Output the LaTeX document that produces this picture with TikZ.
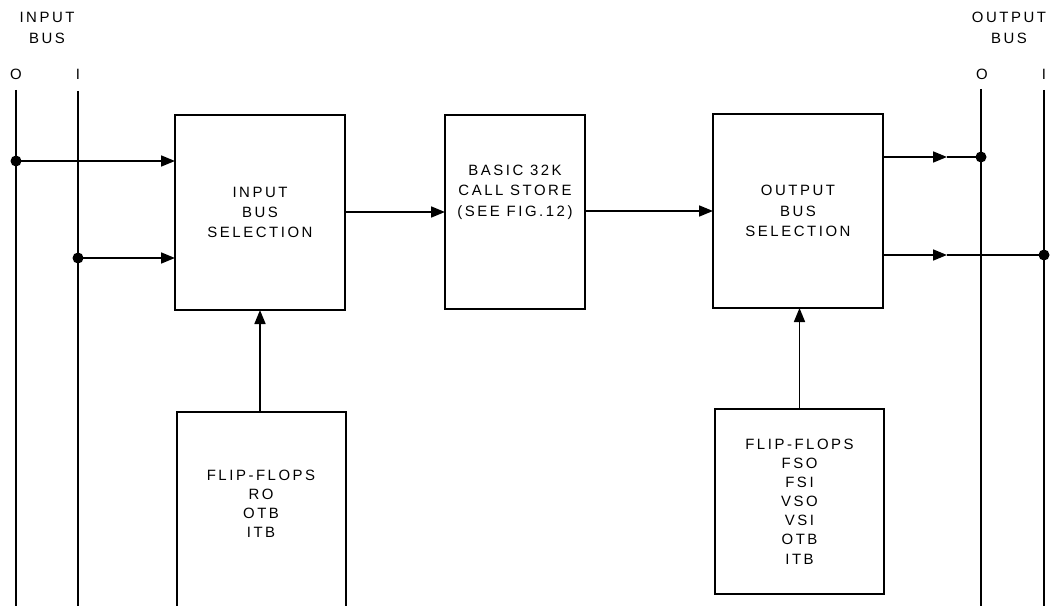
\documentclass[tikz,border=0pt]{standalone}
\usepackage{fontspec}
\setmainfont{Liberation Sans}[LetterSpace=17]
\usetikzlibrary{arrows.meta}
\begin{document}
\begin{tikzpicture}[x=1bp,y=-1bp,line width=1.7bp,
  blk/.style={draw,inner sep=0pt,outer sep=0pt},
  ghost/.style={inner sep=0pt,outer sep=0pt},
  txt/.style={align=center,font=\fontsize{15}{20.5}\selectfont,inner sep=0pt},
  arr/.style={-{Triangle[length=14bp,width=11bp]}},
  dot/.style={circle,fill,inner sep=0pt,minimum size=11bp}]
\useasboundingbox (0,0) rectangle (1053,606);
% boxes
\node[blk,minimum width=170bp,minimum height=195bp] (inbox) at (260,212.5) {};
\node[blk,minimum width=140bp,minimum height=194bp] (store) at (515,212) {};
\node[blk,minimum width=170bp,minimum height=194bp] (outbox) at (798,211) {};
\node[ghost,minimum width=169bp,minimum height=198bp] (ffL) at (261.5,511) {};
\node[blk,minimum width=169bp,minimum height=185bp] (ffR) at (799.5,501.5) {};
\draw (ffL.south west) -- (ffL.north west) -- (ffL.north east) -- (ffL.south east);
% texts
\node[txt] (tin) at (inbox.center) {INPUT\\BUS\\SELECTION};
\node[txt] (tstore) at (515,192) {BASIC 32K\\CALL STORE\\(SEE FIG.12)};
\node[txt] (tout) at (outbox.center) {OUTPUT\\BUS\\SELECTION};
\node[txt,font=\fontsize{15}{19.2}\selectfont] (tffL) at (261,504) {FLIP-FLOPS\\RO\\OTB\\ITB};
\node[txt,font=\fontsize{15}{19.2}\selectfont] (tffR) at (ffR.center) {FLIP-FLOPS\\FSO\\FSI\\VSO\\VSI\\OTB\\ITB};
\node[txt] (lin) at (47,28) {INPUT\\BUS};
\node[txt] (lout) at (1009,28) {OUTPUT\\BUS};
\node[txt] (lin0) at (16,74) {O};
\node[txt] (lin1) at (78,74) {I};
\node[txt] (lout0) at (982,74) {O};
\node[txt] (lout1) at (1044,74) {I};
% bus lines
\coordinate (b0t) at (16,90);   \coordinate (b0b) at (16,606);
\coordinate (b1t) at (78,91);   \coordinate (b1b) at (78,606);
\coordinate (c0t) at (981,89);  \coordinate (c0b) at (981,606);
\coordinate (c1t) at (1044,90); \coordinate (c1b) at (1044,606);
\draw (b0t) -- (b0b);
\draw (b1t) -- (b1b);
\draw (c0t) -- (c0b);
\draw (c1t) -- (c1b);
% junctions
\node[dot] (j1) at (16,161) {};
\node[dot] (j2) at (78,258) {};
\node[dot] (j3) at (981,157) {};
\node[dot] (j4) at (1044,255) {};
% connectors
\draw[arr] (j1.center) -- (inbox.west |- j1);
\draw[arr] (j2.center) -- (inbox.west |- j2);
\draw[arr] (inbox.east |- store.center) -- (store.west);
\draw[arr] (store.east |- outbox.center) -- (outbox.west);
\coordinate (m3) at (947,157);
\coordinate (m4) at (947,255);
\draw[arr] (outbox.east |- j3) -- (m3);
\draw (m3) -- (j3.center);
\draw[arr] (outbox.east |- j4) -- (m4);
\draw (m4) -- (j4.center);
\draw[arr] (ffL.north -| inbox.south) -- (inbox.south);
\draw[arr] (ffR.north) -- (outbox.south -| ffR.north);
\end{tikzpicture}
\end{document}
